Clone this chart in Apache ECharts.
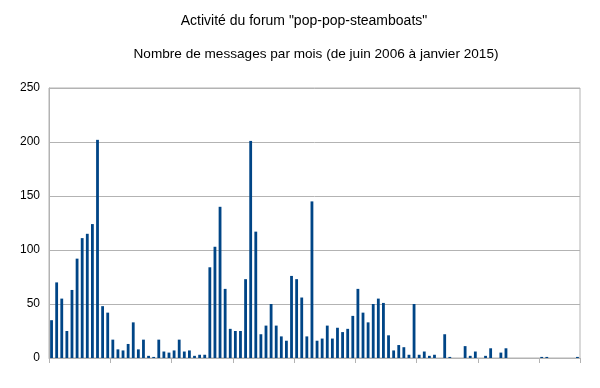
<!DOCTYPE html>
<html>
<head>
<meta charset="utf-8">
<script src="https://cdn.jsdelivr.net/npm/echarts@6/dist/echarts.min.js"></script>
<style>html,body{margin:0;padding:0;background:#fff}#c{width:600px;height:388px}</style>
</head>
<body>
<div id="c"></div>
<script>
const titleText = 'Activité du forum "pop-pop-steamboats"';
const subtitleText = 'Nombre de messages par mois (de juin 2006 à janvier 2015)';
const yTicks = [0, 50, 100, 150, 200, 250];

// months from June 2006 to January 2015
const months = [];
for (let y = 2006; y <= 2015; y++) {
  for (let m = 1; m <= 12; m++) {
    if (y === 2006 && m < 6) continue;
    if (y === 2015 && m > 1) break;
    months.push(y + '-' + String(m).padStart(2, '0'));
  }
}

const messages = [
  35, 70, 55, 25, 63, 92, 111, 115, 124, 202,
  48, 42, 17, 8, 7, 13, 33, 8, 17, 2,
  1, 17, 6, 5, 7, 17, 6, 7, 2, 3,
  3, 84, 103, 140, 64, 27, 25, 25, 73, 201,
  117, 22, 30, 50, 30, 20, 16, 76, 73, 56,
  20, 145, 16, 18, 30, 18, 28, 24, 27, 39,
  64, 42, 33, 50, 55, 51, 21, 7, 12, 10,
  3, 50, 3, 6, 2, 3, 0, 22, 1, 0,
  0, 11, 2, 6, 0, 2, 9, 0, 5, 9,
  0, 0, 0, 0, 0, 0, 1, 1, 0, 0,
  0, 0, 0, 1
];

const chart = echarts.init(document.getElementById('c'), null, {renderer: 'canvas'});
chart.setOption({
  animation: false,
  backgroundColor: '#ffffff',
  title: [
    {text: titleText, left: 299, top: 9, textAlign: 'center',
     textStyle: {fontFamily: 'Liberation Sans, Arial, sans-serif', fontSize: 14, fontWeight: 'normal', color: '#000'}},
    {text: subtitleText, left: 311, top: 42, textAlign: 'center',
     textStyle: {fontFamily: 'Liberation Sans, Arial, sans-serif', fontSize: 13.6, fontWeight: 'normal', color: '#000'}}
  ],
  grid: {left: 49, right: 20, top: 88, bottom: 30, show: true, borderColor: '#b3b3b3', borderWidth: 1},
  xAxis: {
    type: 'category',
    data: months,
    boundaryGap: true,
    axisLine: {show: true, lineStyle: {color: '#b3b3b3'}},
    axisTick: {show: true, length: 5, lineStyle: {color: '#b3b3b3'}},
    axisLabel: {show: false}
  },
  yAxis: {
    type: 'value',
    min: 0, max: 250, interval: 50,
    axisLine: {show: true, lineStyle: {color: '#b3b3b3'}},
    axisTick: {show: false},
    splitLine: {lineStyle: {color: '#b3b3b3', width: 1}},
    axisLabel: {color: '#000', fontSize: 12, fontFamily: 'Liberation Sans, Arial, sans-serif', margin: 9,
      formatter: v => yTicks.includes(v) ? String(v) : ''}
  },
  series: [{
    type: 'bar',
    data: messages,
    barWidth: '55%',
    itemStyle: {color: '#004586'}
  }]
});
</script>
</body>
</html>
